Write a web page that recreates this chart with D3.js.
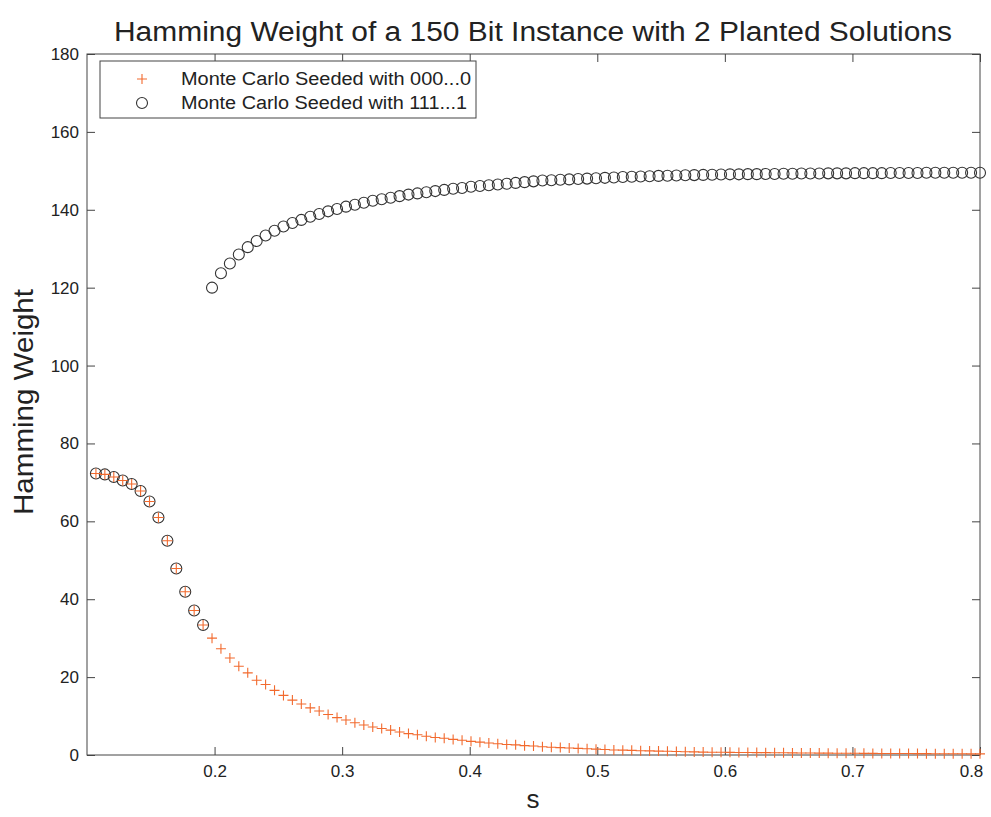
<!DOCTYPE html>
<html>
<head>
<meta charset="utf-8">
<script src="https://cdn.jsdelivr.net/npm/d3@7"></script>
<style>
  html, body { margin: 0; padding: 0; background: #fff; }
  svg { display: block; font-family: "Liberation Sans", Arial, sans-serif; }
</style>
</head>
<body>
<svg id="chart" width="991" height="817"></svg>
<script>
// ---- data ----
const sStart = 0.1;
const sStep = 0.007;
// index i (1..100) -> s = 0.1 + 0.007*i
const seed0Values = [
  72.3, 72.05, 71.4, 70.5, 69.6, 67.8, 65.1, 61.0, 55.0, 47.9,
  41.9, 37.1, 33.4, 30.0, 27.3, 24.9, 22.8, 21.1, 19.2, 18.1,
  16.6, 15.3, 14.1, 13.1, 12.1, 11.3, 10.4, 9.6, 9.0, 8.3,
  7.7, 7.2, 6.8, 6.4, 5.9, 5.5, 5.2, 4.8, 4.5, 4.3,
  4.0, 3.8, 3.5, 3.3, 3.1, 2.9, 2.7, 2.6, 2.4, 2.3,
  2.1, 2.0, 1.9, 1.8, 1.7, 1.6, 1.5, 1.4, 1.3, 1.25,
  1.2, 1.1, 1.05, 1.0, 0.95, 0.9, 0.85, 0.8, 0.75, 0.72,
  0.7, 0.68, 0.66, 0.64, 0.62, 0.6, 0.58, 0.56, 0.54, 0.52,
  0.5, 0.49, 0.48, 0.46, 0.45, 0.44, 0.42, 0.41, 0.4, 0.39,
  0.38, 0.37, 0.36, 0.35, 0.34, 0.33, 0.32, 0.31, 0.3, 0.3
];
const seed1Values = [
  72.3, 72.05, 71.4, 70.5, 69.6, 67.8, 65.1, 61.0, 55.0, 47.9,
  41.9, 37.1, 33.4, 120.0, 123.7, 126.2, 128.5, 130.4, 132.0, 133.4,
  134.6, 135.7, 136.6, 137.4, 138.2, 138.9, 139.6, 140.2, 140.8, 141.3,
  141.8, 142.3, 142.7, 143.1, 143.5, 143.9, 144.2, 144.5, 144.8, 145.1,
  145.4, 145.6, 145.9, 146.1, 146.3, 146.5, 146.7, 146.9, 147.1, 147.3,
  147.5, 147.6, 147.7, 147.8, 147.9, 148.0, 148.1, 148.2, 148.3, 148.4,
  148.5, 148.55, 148.6, 148.7, 148.75, 148.8, 148.85, 148.9, 148.95, 149.0,
  149.05, 149.1, 149.1, 149.15, 149.15, 149.2, 149.2, 149.25, 149.25, 149.3,
  149.3, 149.3, 149.35, 149.35, 149.35, 149.4, 149.4, 149.4, 149.4, 149.45,
  149.45, 149.45, 149.45, 149.5, 149.5, 149.5, 149.5, 149.5, 149.5, 149.5
];
const xTicks = [0.2, 0.3, 0.4, 0.5, 0.6, 0.7, 0.8];
const yTicks = [0, 20, 40, 60, 80, 100, 120, 140, 160, 180];
const titleText = "Hamming Weight of a 150 Bit Instance with 2 Planted Solutions";
const xLabel = "s";
const yLabel = "Hamming Weight";
const legendLabels = ["Monte Carlo Seeded with 000...0", "Monte Carlo Seeded with 111...1"];

// ---- layout ----
const L = 87, R = 980, T = 54, B = 755;
const svg = d3.select("#chart");
const x = d3.scaleLinear().domain([0.1, 0.8]).range([L, R]);
const y = d3.scaleLinear().domain([0, 180]).range([B, T]);

const sOf = i => sStart + sStep * (i + 1);
const pts0 = seed0Values.map((v, i) => ({ s: sOf(i), v }));
const pts1 = seed1Values.map((v, i) => ({ s: sOf(i), v }));

const axisColor = "#444";
const textColor = "#222";

// frame
svg.append("rect").attr("x", L).attr("y", T).attr("width", R - L).attr("height", B - T)
  .attr("fill", "none").attr("stroke", axisColor).attr("stroke-width", 1);

function styleAxis(g, fs) {
  g.select(".domain").remove();
  g.selectAll(".tick line").attr("stroke", axisColor);
  g.selectAll(".tick text").attr("fill", textColor).style("font-size", fs + "px")
    .style("font-family", '"Liberation Sans", Arial, sans-serif');
}

svg.append("g").attr("transform", `translate(0,${B})`)
  .call(d3.axisBottom(x).tickValues(xTicks).tickFormat(d3.format(".1f")).tickSizeInner(-8).tickSizeOuter(0).tickPadding(10))
  .call(g => styleAxis(g, 17))
  .call(g => g.selectAll(".tick text").filter(d => d === 0.8).attr("dx", -9));
svg.append("g").attr("transform", `translate(0,${T})`)
  .call(d3.axisTop(x).tickValues(xTicks).tickFormat("").tickSizeInner(-8).tickSizeOuter(0))
  .call(g => styleAxis(g, 17));
svg.append("g").attr("transform", `translate(${L},0)`)
  .call(d3.axisLeft(y).tickValues(yTicks).tickFormat(d3.format("d")).tickSizeInner(-8).tickSizeOuter(0).tickPadding(8))
  .call(g => styleAxis(g, 17));
svg.append("g").attr("transform", `translate(${R},0)`)
  .call(d3.axisRight(y).tickValues(yTicks).tickFormat("").tickSizeInner(-8).tickSizeOuter(0))
  .call(g => styleAxis(g, 17));

// markers
const plusColor = "#f26a2e";
const circColor = "#333";
const pr = 5;

svg.append("g").selectAll("circle").data(pts1).join("circle")
  .attr("cx", d => x(d.s)).attr("cy", d => y(d.v)).attr("r", 5.5)
  .attr("fill", "none").attr("stroke", circColor).attr("stroke-width", 1.1);

svg.append("g").selectAll("path").data(pts0).join("path")
  .attr("d", d => {
    const cx = x(d.s), cy = y(d.v);
    return `M${cx - pr},${cy}H${cx + pr}M${cx},${cy - pr}V${cy + pr}`;
  })
  .attr("fill", "none").attr("stroke", plusColor).attr("stroke-width", 1.1);

// legend
const lg = svg.append("g");
lg.append("rect").attr("x", 100).attr("y", 61).attr("width", 376).attr("height", 57)
  .attr("fill", "#fff").attr("stroke", axisColor).attr("stroke-width", 1);
const rows = [79, 103];
lg.append("path")
  .attr("d", `M${142 - pr},${rows[0]}H${142 + pr}M142,${rows[0] - pr}V${rows[0] + pr}`)
  .attr("stroke", plusColor).attr("stroke-width", 1.1).attr("fill", "none");
lg.append("circle").attr("cx", 142).attr("cy", rows[1]).attr("r", 5.5)
  .attr("fill", "none").attr("stroke", circColor).attr("stroke-width", 1.1);
legendLabels.forEach((t, i) => {
  lg.append("text").attr("x", 181).attr("y", rows[i]).attr("dy", "0.36em")
    .attr("fill", textColor).style("font-size", "18px")
    .attr("textLength", i === 0 ? 290 : 286).attr("lengthAdjust", "spacingAndGlyphs").text(t);
});

// titles
svg.append("text").attr("x", 533).attr("y", 41).attr("text-anchor", "middle")
  .attr("fill", textColor).style("font-size", "27px")
  .attr("textLength", 838).attr("lengthAdjust", "spacingAndGlyphs").text(titleText);
svg.append("text").attr("x", 533).attr("y", 808).attr("text-anchor", "middle")
  .attr("fill", textColor).style("font-size", "26px").text(xLabel);
svg.append("text").attr("transform", `translate(33,402) rotate(-90)`)
  .attr("text-anchor", "middle").attr("fill", textColor).style("font-size", "28px")
  .attr("textLength", 226).attr("lengthAdjust", "spacingAndGlyphs").text(yLabel);
</script>
</body>
</html>
